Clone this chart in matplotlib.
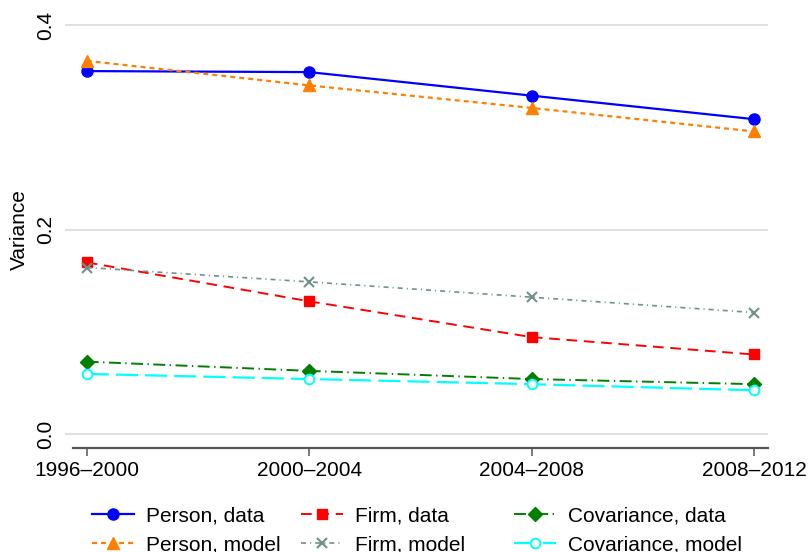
import matplotlib
matplotlib.use("Agg")
import matplotlib.pyplot as plt

periods = ["1996–2000", "2000–2004", "2004–2008", "2008–2012"]
person_data = [0.355, 0.354, 0.331, 0.308]
person_model = [0.365, 0.341, 0.319, 0.296]
firm_data = [0.168, 0.130, 0.095, 0.078]
firm_model = [0.163, 0.149, 0.134, 0.119]
cov_data = [0.071, 0.062, 0.054, 0.049]
cov_model = [0.059, 0.054, 0.049, 0.043]
yticks = [0.0, 0.2, 0.4]


def draw():
    plt.rcParams["font.family"] = ["Liberation Sans", "DejaVu Sans"]
    plt.rcParams["lines.scale_dashes"] = False
    fs = 15
    fig = plt.figure(figsize=(8.08, 5.52), dpi=100)
    ax = fig.add_axes([65 / 808, 104 / 552, 703 / 808, 429 / 552])
    x = list(range(len(periods)))

    lines = []
    lines += ax.plot(x, person_data, color="#0000ff", lw=1.6, ls="-",
                     marker="o", ms=8, label="Person, data")
    lines += ax.plot(x, person_model, color="#ff8000", lw=1.6, ls=(0, (3.6, 2.9)),
                     marker="^", ms=9, label="Person, model")
    lines += ax.plot(x, firm_data, color="#ff0000", lw=1.4, ls=(0, (7.7, 4.8)),
                     marker="s", ms=7.5, label="Firm, data")
    lines += ax.plot(x, firm_model, color="#70908a", lw=1.2,
                     ls=(0, (3.6, 2.9, 0.8, 2.9)),
                     marker="x", ms=7, mew=1.5, label="Firm, model")
    lines += ax.plot(x, cov_data, color="#007f00", lw=1.4,
                     ls=(0, (8.6, 3.2, 1.0, 3.2)),
                     marker="D", ms=7, label="Covariance, data")
    lines += ax.plot(x, cov_model, color="#00ffff", lw=1.6, ls=(0, (16, 5)),
                     marker="o", ms=7, mfc="white", mew=1.4,
                     label="Covariance, model")

    ax.set_xlim((65 - 86.7) / 222.4, (768 - 86.7) / 222.4)
    ax.set_ylim((434.3 - 448) / 1022.5, 0.4059)
    ax.set_xticks(x)
    ax.set_xticklabels(periods, fontsize=fs)
    ax.set_yticks(yticks)
    ax.set_yticklabels([f"{v:.1f}" for v in yticks], fontsize=fs,
                       rotation=90, va="center")
    ax.tick_params(axis="y", length=0, pad=7)
    ax.tick_params(axis="x", length=6, width=1.1, color="#555555", pad=3)
    ax.grid(axis="y", color="#d9d9d9", lw=1.1)
    ax.set_axisbelow(True)
    for side in ["top", "right", "left"]:
        ax.spines[side].set_visible(False)
    ax.spines["bottom"].set_color("#555555")
    ax.spines["bottom"].set_linewidth(1.6)
    ax.spines["bottom"].set_bounds((73 - 86.7) / 222.4, (768 - 86.7) / 222.4)

    fig.text(19 / 808, 1 - 230 / 552, "Variance", rotation=90,
             ha="center", va="center", fontsize=fs)

    # three single-column legends so the columns sit where the reference has them
    col_x = [92, 301, 514]
    for i, cx in enumerate(col_x):
        fig.legend(handles=lines[2 * i:2 * i + 2], loc="upper left",
                   bbox_to_anchor=(cx / 808, 1 - 506 / 552),
                   frameon=False, fontsize=fs, handlelength=2.0,
                   handletextpad=0.6, labelspacing=0.5,
                   borderpad=0, borderaxespad=0)
    fig.savefig("out.png", dpi=100)


def main():
    draw()


if __name__ == "__main__":
    main()
